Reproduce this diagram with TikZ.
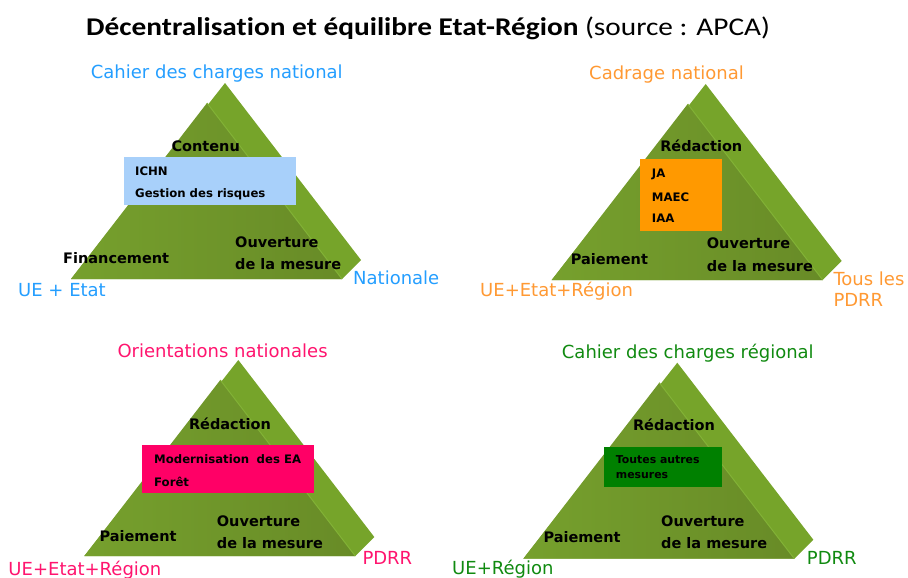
\documentclass[tikz,border=0pt]{standalone}
\usepackage{fontspec}
\setmainfont{DejaVu Sans}
\newfontfamily\titlefont[FakeStretch=1.15,Ligatures=NoCommon]{Carlito}
\definecolor{frontL}{RGB}{118,160,45}
\definecolor{frontR}{RGB}{104,139,39}
\definecolor{sidec}{RGB}{118,164,42}
\definecolor{hlc}{RGB}{130,178,54}
\definecolor{cblue}{RGB}{36,158,255}
\definecolor{corange}{RGB}{255,153,51}
\definecolor{cpink}{RGB}{255,20,110}
\definecolor{cgreen}{RGB}{16,138,16}
\definecolor{bblue}{RGB}{168,208,250}
\definecolor{borange}{RGB}{255,153,0}
\definecolor{bpink}{RGB}{255,0,102}
\definecolor{bgreen}{RGB}{0,128,0}
\newcommand\pyr[3]{%
 \begin{scope}[shift={(#1,#2)}]
  \coordinate (#3L) at (0,0);
  \coordinate (#3T) at (136,-176);
  \coordinate (#3R) at (271,0);
  \coordinate (#3A) at (154,-196);
  \coordinate (#3B) at (290,-19);
  \fill[sidec] (#3L) -- (#3A) -- (#3B) -- (#3R) -- cycle;
  \shade[left color=frontL, right color=frontR] (#3L) -- (#3T) -- (#3R) -- cycle;
  \draw[hlc, line width=1pt] (#3T) -- (#3R);
 \end{scope}}
\begin{document}
\begin{tikzpicture}[x=1pt,y=-1pt,
  lbl/.style={font=\fontsize{18}{20}\selectfont, inner sep=0pt, anchor=base west},
  bl/.style={font=\bfseries\fontsize{14.5}{22.5}\selectfont, inner sep=0pt, anchor=base west, align=left},
  bx/.style={font=\bfseries\fontsize{11.7}{14}\selectfont, inner sep=0pt, anchor=base west},
  box/.style={inner sep=0pt, draw=none}]
\useasboundingbox (0,0) rectangle (908,578);
\node[anchor=base west, inner sep=0pt, font=\titlefont\fontsize{25.5}{30}\selectfont] (title) at (86,36) {\textbf{Décentralisation et équilibre Etat-Région} (source : APCA)};

% ---------- pyramid 1
\pyr{71}{279}{p1}
\node[bl, anchor=base] (p1c) at (205.7,151) {Contenu};
\node[box, fill=bblue, minimum width=172, minimum height=48] (p1box) at (210,181.3) {};
\node[bx] (p1t1) at (135,175.3) {ICHN};
\node[bx] (p1t2) at (135,197.6) {Gestion des risques};
\node[bl] (p1f) at (63,263) {Financement};
\node[bl] (p1o) at (235,247) {Ouverture};
\node[bl] (p1m) at (235,269.5) {de la mesure};
\node[lbl, text=cblue] (p1top) at (90.7,79) {Cahier des charges national};
\node[lbl, text=cblue] (p1l) at (18,296.5) {UE + Etat};
\node[lbl, text=cblue] (p1r) at (353,284.5) {Nationale};

% ---------- pyramid 2
\pyr{551.7}{280}{p2}
\node[bl, anchor=base] (p2c) at (701.3,151.4) {Rédaction};
\node[box, fill=borange, minimum width=81.7, minimum height=71.4] (p2box) at (680.85,195) {};
\node[bx] (p2t1) at (651.7,177.6) {JA};
\node[bx] (p2t2) at (651.7,201) {MAEC};
\node[bx] (p2t3) at (651.7,222) {IAA};
\node[bl] (p2f) at (570.7,264.4) {Paiement};
\node[bl] (p2o) at (706.7,248) {Ouverture};
\node[bl] (p2m) at (706.7,271) {de la mesure};
\node[lbl, text=corange] (p2top) at (589,80) {Cadrage national};
\node[lbl, text=corange] (p2l) at (480,296.5) {UE+Etat+Région};
\node[lbl, text=corange] (p2r) at (833.3,285.5) {Tous les};
\node[lbl, text=corange] (p2r2) at (833.3,306) {PDRR};

% ---------- pyramid 3
\pyr{84.3}{556}{p3}
\node[bl, anchor=base] (p3c) at (230,429.4) {Rédaction};
\node[box, fill=bpink, minimum width=171.4, minimum height=48.3] (p3box) at (228,469.15) {};
\node[bx] (p3t1) at (154,463) {Modernisation\hspace{0.3em} des EA};
\node[bx] (p3t2) at (154,486) {Forêt};
\node[bl] (p3f) at (99.3,541.4) {Paiement};
\node[bl] (p3o) at (216.7,526) {Ouverture};
\node[bl] (p3m) at (216.7,548) {de la mesure};
\node[lbl, text=cpink] (p3top) at (117.3,357.5) {Orientations nationales};
\node[lbl, text=cpink] (p3l) at (8.3,575) {UE+Etat+Région};
\node[lbl, text=cpink] (p3r) at (362.3,564) {PDRR};

% ---------- pyramid 4
\pyr{523.3}{558.7}{p4}
\node[bl, anchor=base] (p4c) at (674,430.4) {Rédaction};
\node[box, fill=bgreen, minimum width=117.7, minimum height=39.7] (p4box) at (662.85,466.85) {};
\node[bx, font=\bfseries\fontsize{10.9}{12}\selectfont] (p4t1) at (615.7,463.3) {Toutes autres};
\node[bx, font=\bfseries\fontsize{10.9}{12}\selectfont] (p4t2) at (615.7,478.3) {mesures};
\node[bl] (p4f) at (543.3,542) {Paiement};
\node[bl] (p4o) at (661,526.4) {Ouverture};
\node[bl] (p4m) at (661,548.7) {de la mesure};
\node[lbl, text=cgreen] (p4top) at (561.7,358) {Cahier des charges régional};
\node[lbl, text=cgreen] (p4l) at (452,574.5) {UE+Région};
\node[lbl, text=cgreen] (p4r) at (806.7,564) {PDRR};
\end{tikzpicture}
\end{document}
